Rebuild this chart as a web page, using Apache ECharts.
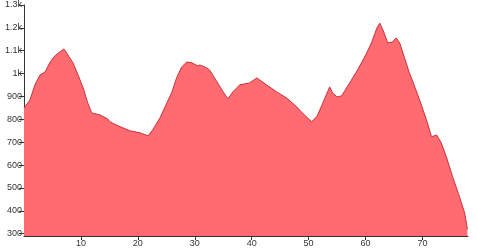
<!DOCTYPE html>
<html><head><meta charset="utf-8">
<script src="https://cdn.jsdelivr.net/npm/echarts@6/dist/echarts.min.js"></script>
<style>html,body{margin:0;padding:0;background:#fff}#c{width:478px;height:249px}</style>
</head><body><div id="c"></div>
<script>
const distKm = [0,1.05,1.9,2.8,3.7,4.6,5.4,6.3,6.6,7.0,7.3,7.7,8.6,9.5,10.4,11.2,11.9,13.3,14.7,15.1,16.5,16.8,18.6,20.4,21.8,22.6,23.9,25.1,26.0,26.8,27.7,28.6,29.5,30.5,30.9,32.1,32.6,33.9,35.0,35.8,36.7,37.9,39.6,40.9,42.6,44.4,46.1,47.9,48.4,49.6,50.2,50.5,51.4,51.6,52.5,53.7,54.2,55.0,55.8,57.2,58.6,60.2,61.1,62.0,62.5,63.2,63.9,64.7,65.4,66.0,66.8,67.7,68.2,69.5,70.7,71.6,72.5,73.3,74.2,75.3,76.5,77.4,77.9];
const elevation = [850,885,950,994,1007,1051,1077,1095,1090,1108,1098,1082,1047,994,937,872,828,820,802,789,772,767,750,741,728,754,807,872,920,981,1029,1051,1047,1034,1038,1025,1016,964,920,890,920,951,959,981,951,920,894,855,841,811,798,789,811,820,872,942,916,898,903,959,1016,1090,1138,1200,1221,1182,1134,1138,1156,1134,1073,1003,972,885,798,724,732,697,636,549,462,392,320];
const xTicks = [10,20,30,40,50,60,70];
const yTicks = [300,400,500,600,700,800,900,1000,1100,1200,1300];

const chart = echarts.init(document.getElementById('c'), null, {renderer:'canvas'});
const axisCol = '#333';
chart.setOption({
  animation:false,
  grid:{left:24,right:10,top:5,bottom:13,containLabel:false,outerBoundsMode:'none'},
  xAxis:{type:'value',min:0,max:78,
    axisLine:{show:true,lineStyle:{color:axisCol,width:1}},
    axisTick:{show:true,length:4,customValues:xTicks,lineStyle:{color:axisCol}},
    axisLabel:{customValues:xTicks,fontSize:9,color:'#333',margin:3,fontFamily:'Liberation Sans, Arial, sans-serif'},
    splitLine:{show:false}},
  yAxis:{type:'value',min:290,max:1300,
    axisLine:{show:true,lineStyle:{color:axisCol,width:1}},
    axisTick:{show:true,length:5,customValues:yTicks,lineStyle:{color:axisCol}},
    axisLabel:{customValues:yTicks,fontSize:9,color:'#333',margin:2,fontFamily:'Liberation Sans, Arial, sans-serif',
      formatter:v=>v>=1000?(v/1000)+'k':String(v)},
    splitLine:{show:false}},
  series:[{type:'line',data:distKm.map((d,i)=>[d,elevation[i]]),showSymbol:false,
    lineStyle:{color:'#c8323a',width:1},
    areaStyle:{color:'#ff6b70',opacity:1},
    z:1}]
});
</script></body></html>
